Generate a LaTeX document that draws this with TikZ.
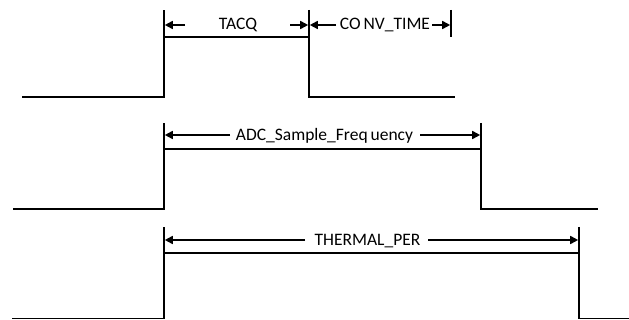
\documentclass[tikz,border=0pt]{standalone}
\usepackage{fontspec}
\setmainfont{Carlito}
\usetikzlibrary{arrows.meta}
\begin{document}
\begin{tikzpicture}[x=1pt,y=-1pt,
  wave/.style={line width=1.8pt,line join=miter},
  tick/.style={line width=1.6pt},
  arr/.style={line width=1.6pt,-{Triangle[length=8pt,width=8pt]}},
  lbl/.style={font=\fontsize{17.5}{20}\selectfont,inner sep=0pt,anchor=base}]
\useasboundingbox (0,0) rectangle (629,320);
% signal 1
\coordinate (a0) at (22,97);
\coordinate (a1) at (164,97);
\coordinate (a1t) at (164,10);
\coordinate (a2) at (164,37);
\coordinate (a3) at (309,37);
\coordinate (a3t) at (309,10);
\coordinate (a4) at (309,97);
\coordinate (a5) at (455,97);
\coordinate (c1t) at (451,10);
\coordinate (c1b) at (451,37);
\draw[wave] (a0) -- (a1) -- (a1t);
\draw[wave] (a2) -- (a3);
\draw[wave] (a3t) -- (a4) -- (a5);
\draw[tick] (c1t) -- (c1b);
\node[lbl] (tacq) at (238,30) {TACQ};
\node[lbl] (conv) at (385,30) {CO\,NV\_TIME};
\coordinate (ta1) at (185,25);
\coordinate (ta3) at (164.8,25);
\coordinate (ta2) at (290,25);
\coordinate (ta4) at (308.2,25);
\coordinate (cv1) at (336,25);
\coordinate (cv3) at (309.8,25);
\coordinate (cv2) at (432,25);
\coordinate (cv4) at (450.2,25);
\draw[arr] (ta1) -- (ta3);
\draw[arr] (ta2) -- (ta4);
\draw[arr] (cv1) -- (cv3);
\draw[arr] (cv2) -- (cv4);
% signal 2
\coordinate (b0) at (13,209);
\coordinate (b1) at (164,209);
\coordinate (b1t) at (164,123);
\coordinate (b2) at (164,149);
\coordinate (b3) at (481,149);
\coordinate (b3t) at (481,123);
\coordinate (b4) at (481,209);
\coordinate (b5) at (598,209);
\draw[wave] (b0) -- (b1) -- (b1t);
\draw[wave] (b2) -- (b3);
\draw[wave] (b3t) -- (b4) -- (b5);
\node[lbl] (adc) at (324.5,140.5) {ADC\_Sample\_Freq\,uency};
\coordinate (ad1) at (230,135);
\coordinate (ad3) at (164.8,135);
\coordinate (ad2) at (420,135);
\coordinate (ad4) at (480.2,135);
\draw[arr] (ad1) -- (ad3);
\draw[arr] (ad2) -- (ad4);
% signal 3
\coordinate (c0) at (12,318.5);
\coordinate (c1) at (164,318.5);
\coordinate (c1u) at (164,227);
\coordinate (c2) at (164,253);
\coordinate (c3) at (579,253);
\coordinate (c3u) at (579,227);
\coordinate (c4) at (579,318.5);
\coordinate (c5) at (629,318.5);
\draw[wave] (c0) -- (c1) -- (c1u);
\draw[wave] (c2) -- (c3);
\draw[wave] (c3u) -- (c4) -- (c5);
\node[lbl] (therm) at (367.5,245.5) {THERMAL\_PER};
\coordinate (th1) at (305,240);
\coordinate (th3) at (164.8,240);
\coordinate (th2) at (428,240);
\coordinate (th4) at (578.2,240);
\draw[arr] (th1) -- (th3);
\draw[arr] (th2) -- (th4);
\end{tikzpicture}
\end{document}
